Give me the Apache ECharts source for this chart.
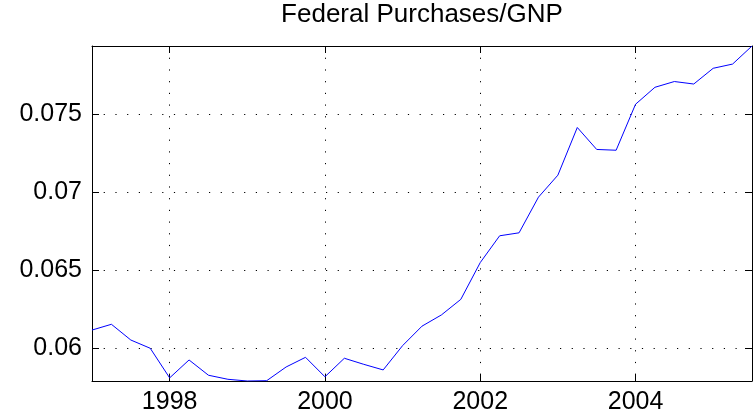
<!DOCTYPE html>
<html>
<head>
<meta charset="utf-8">
<script src="https://cdn.jsdelivr.net/npm/echarts@6/dist/echarts.min.js"></script>
<style>
  html, body { margin: 0; padding: 0; background: #fff; }
  #chart { width: 756px; height: 420px; }
</style>
</head>
<body>
<div id="chart"></div>
<script>
// quarterly dates (fraction of year)
const dates = [
  1997.00, 1997.25, 1997.50, 1997.75,
  1998.00, 1998.25, 1998.50, 1998.75,
  1999.00, 1999.25, 1999.50, 1999.75,
  2000.00, 2000.25, 2000.50, 2000.75,
  2001.00, 2001.25, 2001.50, 2001.75,
  2002.00, 2002.25, 2002.50, 2002.75,
  2003.00, 2003.25, 2003.50, 2003.75,
  2004.00, 2004.25, 2004.50, 2004.75,
  2005.00, 2005.25, 2005.50
];
// federal purchases / GNP ratio
const ratio = [
  0.06115, 0.06152, 0.06051, 0.05998,
  0.05808, 0.05923, 0.05825, 0.05799,
  0.05788, 0.05790, 0.05878, 0.05940,
  0.05815, 0.05934, 0.05895, 0.05859,
  0.06015, 0.06140, 0.06212, 0.06312,
  0.06548, 0.06720, 0.06739, 0.06968,
  0.07109, 0.07415, 0.07274, 0.07269,
  0.07564, 0.07673, 0.07710, 0.07694,
  0.07795, 0.07822, 0.07938
];
const xTicks = [1998, 2000, 2002, 2004];
const yTicks = [0.06, 0.065, 0.07, 0.075];

const font = 'Liberation Sans, Arial, Helvetica, sans-serif';
const grid = { left: 92, right: 4, top: 46, bottom: 39 };

// axe commun : boite noire, graduations vers l'interieur
function boxAxis(ticks, showLabel, showGrid) {
  return {
    axisLine: { show: true, onZero: false, lineStyle: { color: '#000', width: 1 } },
    axisTick: { show: true, inside: true, length: 7, customValues: ticks, lineStyle: { color: '#000' } },
    axisLabel: {
      show: showLabel, customValues: ticks,
      color: '#000', fontFamily: font, fontSize: 25
    },
    splitLine: {
      show: showGrid,
      lineStyle: { color: '#000', width: 1, type: [1.2, 10.5] }
    }
  };
}

const myChart = echarts.init(document.getElementById('chart'), null, { renderer: 'canvas' });

const xMin = dates[0], xMax = dates[dates.length - 1];
const yMin = Math.min(...ratio), yMax = Math.max(...ratio);

const xBottom = boxAxis(xTicks, true, true);
const xTop = boxAxis(xTicks, false, false);
const yLeft = boxAxis(yTicks, true, true);
const yRight = boxAxis(yTicks, false, false);

myChart.setOption({
  animation: false,
  backgroundColor: '#fff',
  title: {
    text: 'Federal Purchases/GNP',
    left: 422,
    textAlign: 'center',
    top: 2,
    padding: 0,
    textStyle: { color: '#000', fontFamily: font, fontSize: 26, fontWeight: 'normal' }
  },
  grid: grid,
  xAxis: [
    Object.assign({ type: 'value', position: 'bottom', min: xMin, max: xMax }, xBottom, {
      axisLabel: Object.assign({}, xBottom.axisLabel, { margin: 9, formatter: v => String(v) })
    }),
    Object.assign({ type: 'value', position: 'top', min: xMin, max: xMax }, xTop)
  ],
  yAxis: [
    Object.assign({ type: 'value', position: 'left', min: yMin, max: yMax }, yLeft, {
      axisLabel: Object.assign({}, yLeft.axisLabel, { margin: 10, formatter: v => String(v) })
    }),
    Object.assign({ type: 'value', position: 'right', min: yMin, max: yMax }, yRight)
  ],
  series: [{
    type: 'line',
    xAxisIndex: 0,
    yAxisIndex: 0,
    data: dates.map((d, i) => [d, ratio[i]]),
    showSymbol: false,
    symbol: 'none',
    lineStyle: { color: '#0000ff', width: 1 },
    clip: true
  }]
});
</script>
</body>
</html>
